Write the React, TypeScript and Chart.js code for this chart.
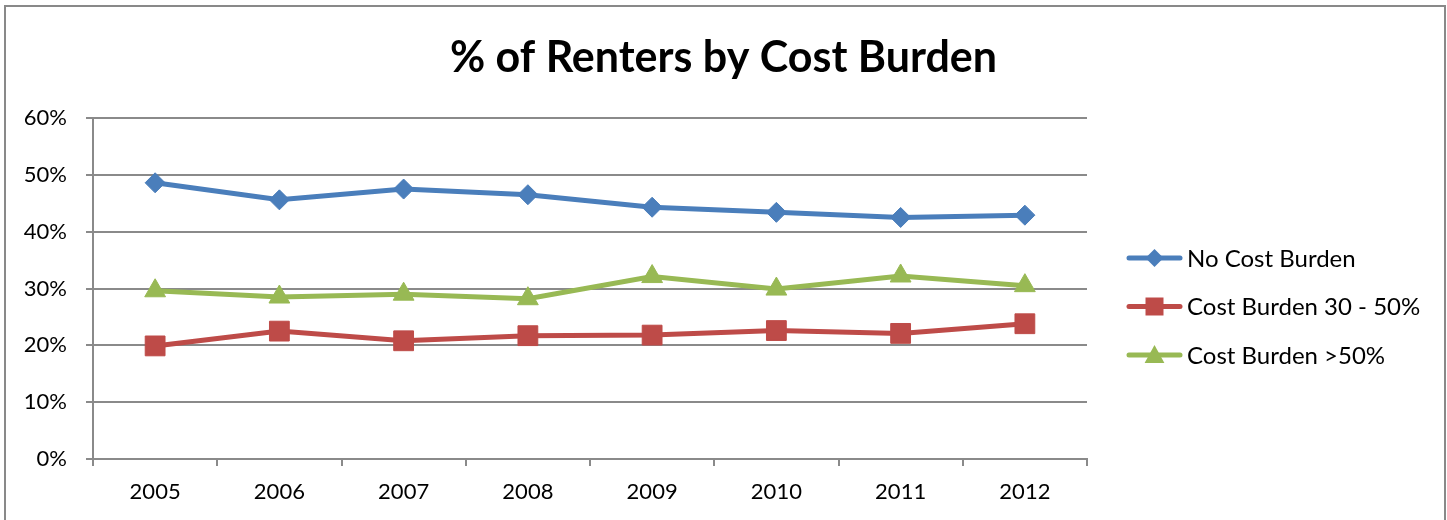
import React, { useEffect, useRef } from "react";
import { Chart, registerables } from "chart.js";

Chart.register(...registerables);

const TITLE = "% of Renters by Cost Burden";
const years = ["2005", "2006", "2007", "2008", "2009", "2010", "2011", "2012"];
const noCostBurden = [48.6, 45.6, 47.5, 46.5, 44.3, 43.4, 42.5, 42.9];
const costBurden30to50 = [19.9, 22.5, 20.8, 21.7, 21.8, 22.6, 22.1, 23.8];
const costBurdenOver50 = [29.6, 28.5, 29.0, 28.2, 32.1, 29.9, 32.2, 30.5];
const seriesNames = ["No Cost Burden", "Cost Burden 30 - 50%", "Cost Burden >50%"];
const seriesColors = ["#4A7EBB", "#BE4B48", "#98B954"];
const seriesMarkers = ["rectRot", "rect", "triangle"];
const markerRadius = [10, 14, 12];

const FONT = "Lato";
const GRID = "#8A8A8A";

function drawMarker(ctx: CanvasRenderingContext2D, style: string, x: number, y: number, s: number) {
  ctx.beginPath();
  if (style === "rectRot") {
    ctx.moveTo(x, y - s);
    ctx.lineTo(x + s, y);
    ctx.lineTo(x, y + s);
    ctx.lineTo(x - s, y);
  } else if (style === "rect") {
    ctx.rect(x - s, y - s, 2 * s, 2 * s);
  } else {
    ctx.moveTo(x, y - s * 1.1);
    ctx.lineTo(x + s * 1.1, y + s * 0.9);
    ctx.lineTo(x - s * 1.1, y + s * 0.9);
  }
  ctx.closePath();
  ctx.fill();
}

const decorPlugin = {
  id: "decor",
  beforeDraw(chart: any) {
    const ctx = chart.ctx as CanvasRenderingContext2D;
    ctx.save();
    ctx.fillStyle = "#ffffff";
    ctx.fillRect(0, 0, chart.width, chart.height);
    ctx.strokeStyle = "#898989";
    ctx.lineWidth = 2;
    ctx.strokeRect(5, 6, 1440, 600);
    ctx.restore();
  },
  afterDraw(chart: any) {
    const ctx = chart.ctx as CanvasRenderingContext2D;
    ctx.save();
    ctx.fillStyle = "#000000";
    ctx.font = `bold 43px ${FONT}`;
    ctx.textAlign = "center";
    ctx.textBaseline = "alphabetic";
    ctx.fillText(TITLE, chart.width / 2, 72);

    chart.data.datasets.forEach((ds: any, i: number) => {
      const y = 258 + i * 48.5;
      ctx.strokeStyle = ds.borderColor;
      ctx.fillStyle = ds.borderColor;
      ctx.lineWidth = 5;
      ctx.lineCap = "round";
      ctx.beginPath();
      ctx.moveTo(1129, y);
      ctx.lineTo(1180, y);
      ctx.stroke();
      drawMarker(ctx, ds.pointStyle, 1154.5, y, 9);
      ctx.fillStyle = "#000000";
      ctx.font = `24px ${FONT}`;
      ctx.textAlign = "left";
      ctx.textBaseline = "middle";
      ctx.fillText(ds.label, 1187, y + 1);
    });
    ctx.restore();
  },
};

export default function App() {
  const ref = useRef<HTMLCanvasElement | null>(null);

  useEffect(() => {
    if (!ref.current) return;
    const series = [noCostBurden, costBurden30to50, costBurdenOver50];
    const chart = new Chart(ref.current, {
      type: "line",
      data: {
        labels: years,
        datasets: series.map((d, i) => ({
          label: seriesNames[i],
          data: d,
          borderColor: seriesColors[i],
          backgroundColor: seriesColors[i],
          pointBackgroundColor: seriesColors[i],
          pointBorderColor: seriesColors[i],
          pointBorderWidth: 1,
          pointStyle: seriesMarkers[i] as any,
          pointRadius: markerRadius[i],
          borderWidth: 5,
          tension: 0,
          fill: false,
        })),
      },
      options: {
        animation: false,
        responsive: false,
        maintainAspectRatio: false,
        layout: { padding: { left: 0, right: 360, top: 118, bottom: 0 } },
        plugins: {
          legend: { display: false },
          title: { display: false },
          tooltip: { enabled: false },
        },
        scales: {
          x: {
            offset: true,
            afterFit: (scale: any) => {
              scale.height = 61;
            },
            grid: {
              offset: true,
              drawOnChartArea: false,
              drawTicks: true,
              tickLength: 7,
              color: GRID,
              lineWidth: 2,
            },
            border: { display: true, color: GRID, width: 2 },
            ticks: {
              color: "#000000",
              font: { family: FONT, size: 22 },
              padding: 13,
              maxRotation: 0,
              autoSkip: false,
            },
          },
          y: {
            min: 0,
            max: 60,
            afterFit: (scale: any) => {
              scale.width = 93;
            },
            grid: {
              drawTicks: true,
              tickLength: 7,
              color: GRID,
              lineWidth: 2,
            },
            border: { display: true, color: GRID, width: 2 },
            ticks: {
              stepSize: 10,
              color: "#000000",
              font: { family: FONT, size: 22 },
              padding: 19,
              callback: (v: any) => `${v}%`,
            },
          },
        },
      },
      plugins: [decorPlugin],
    });
    return () => chart.destroy();
  }, []);

  return (
    <div
      style={{
        position: "fixed",
        left: 0,
        top: 0,
        width: 1447,
        height: 520,
        overflow: "hidden",
        background: "#ffffff",
      }}
    >
      <canvas ref={ref} width={1447} height={520} style={{ width: 1447, height: 520, display: "block" }} />
    </div>
  );
}
